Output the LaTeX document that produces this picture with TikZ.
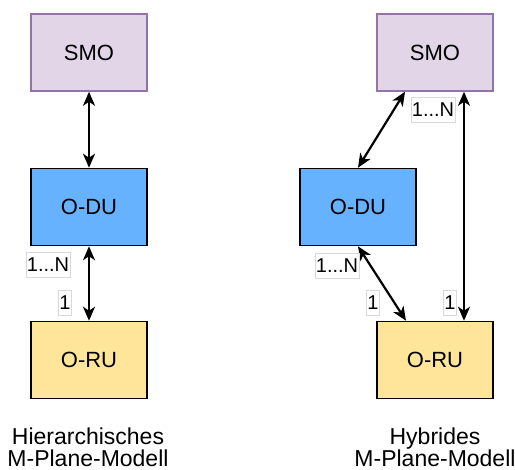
\documentclass[tikz,border=0pt]{standalone}
\usepackage{fontspec}
\setmainfont{Liberation Sans}
\usetikzlibrary{arrows.meta}

\definecolor{smofill}{HTML}{E1D5E7}
\definecolor{smoline}{HTML}{9673A6}
\definecolor{dufill}{HTML}{66B2FF}
\definecolor{rufill}{HTML}{FFE599}

\tikzset{
	box/.style={draw, line width=1.5pt, minimum width=116pt, minimum height=77pt, font=\fontsize{22}{26}\selectfont},
	smobox/.style={box, draw=smoline, fill=smofill},
	dubox/.style={box, fill=dufill},
	rubox/.style={box, fill=rufill},
	mult/.style={draw=black!15, fill=white, inner xsep=1pt, inner ysep=0pt, minimum height=25pt, font=\fontsize{20}{24}\selectfont},
	link/.style={{Stealth[length=14pt,width=12pt,inset=4pt]}-{Stealth[length=14pt,width=12pt,inset=4pt]}, line width=2.2pt},
	caption/.style={align=center, font=\fontsize{23}{22}\selectfont}
}

\begin{document}
\begin{tikzpicture}[x=1pt, y=-1pt]
	\useasboundingbox (0,0) rectangle (515,470);
	% hierarchisch
	\node[smobox] (SMO1) at (89,52.5) {SMO};
	\node[dubox] (DU1) at (89,207) {O-DU};
	\node[rubox] (RU1) at (89,360) {O-RU};
	
	\draw[link] (SMO1) to (DU1);
	\draw[link] (DU1) to (RU1);
	\node[mult] (m1) at (48,265) {1...N};
	\node[mult] (m2) at (65,303) {1};
	
	% hybrid
	\node[smobox] (SMO2) at (435,52.5) {SMO};
	\node[dubox] (DU2) at (358,207) {O-DU};
	\node[rubox] (RU2) at (435,360) {O-RU};
	
	\coordinate (s1) at ([xshift=-30pt]SMO2.south);
	\coordinate (s2) at ([xshift=29pt]SMO2.south);
	\coordinate (r1) at ([xshift=-29pt]RU2.north);
	\coordinate (r2) at ([xshift=29pt]RU2.north);
	\draw[link] (s1) to (DU2.north);
	\draw[link] (DU2.south) to (r1);
	\draw[link] (s2) to (r2);
	\node[mult] (m3) at (433,110) {1...N};
	\node[mult] (m4) at (337,266) {1...N};
	\node[mult] (m5) at (373,303) {1};
	\node[mult] (m6) at (450,303) {1};
	
	\node[caption] (t1) at (88,447) {Hierarchisches\\M-Plane-Modell};
	\node[caption] (t2) at (435,447) {Hybrides\\M-Plane-Modell};
\end{tikzpicture}
\end{document}
